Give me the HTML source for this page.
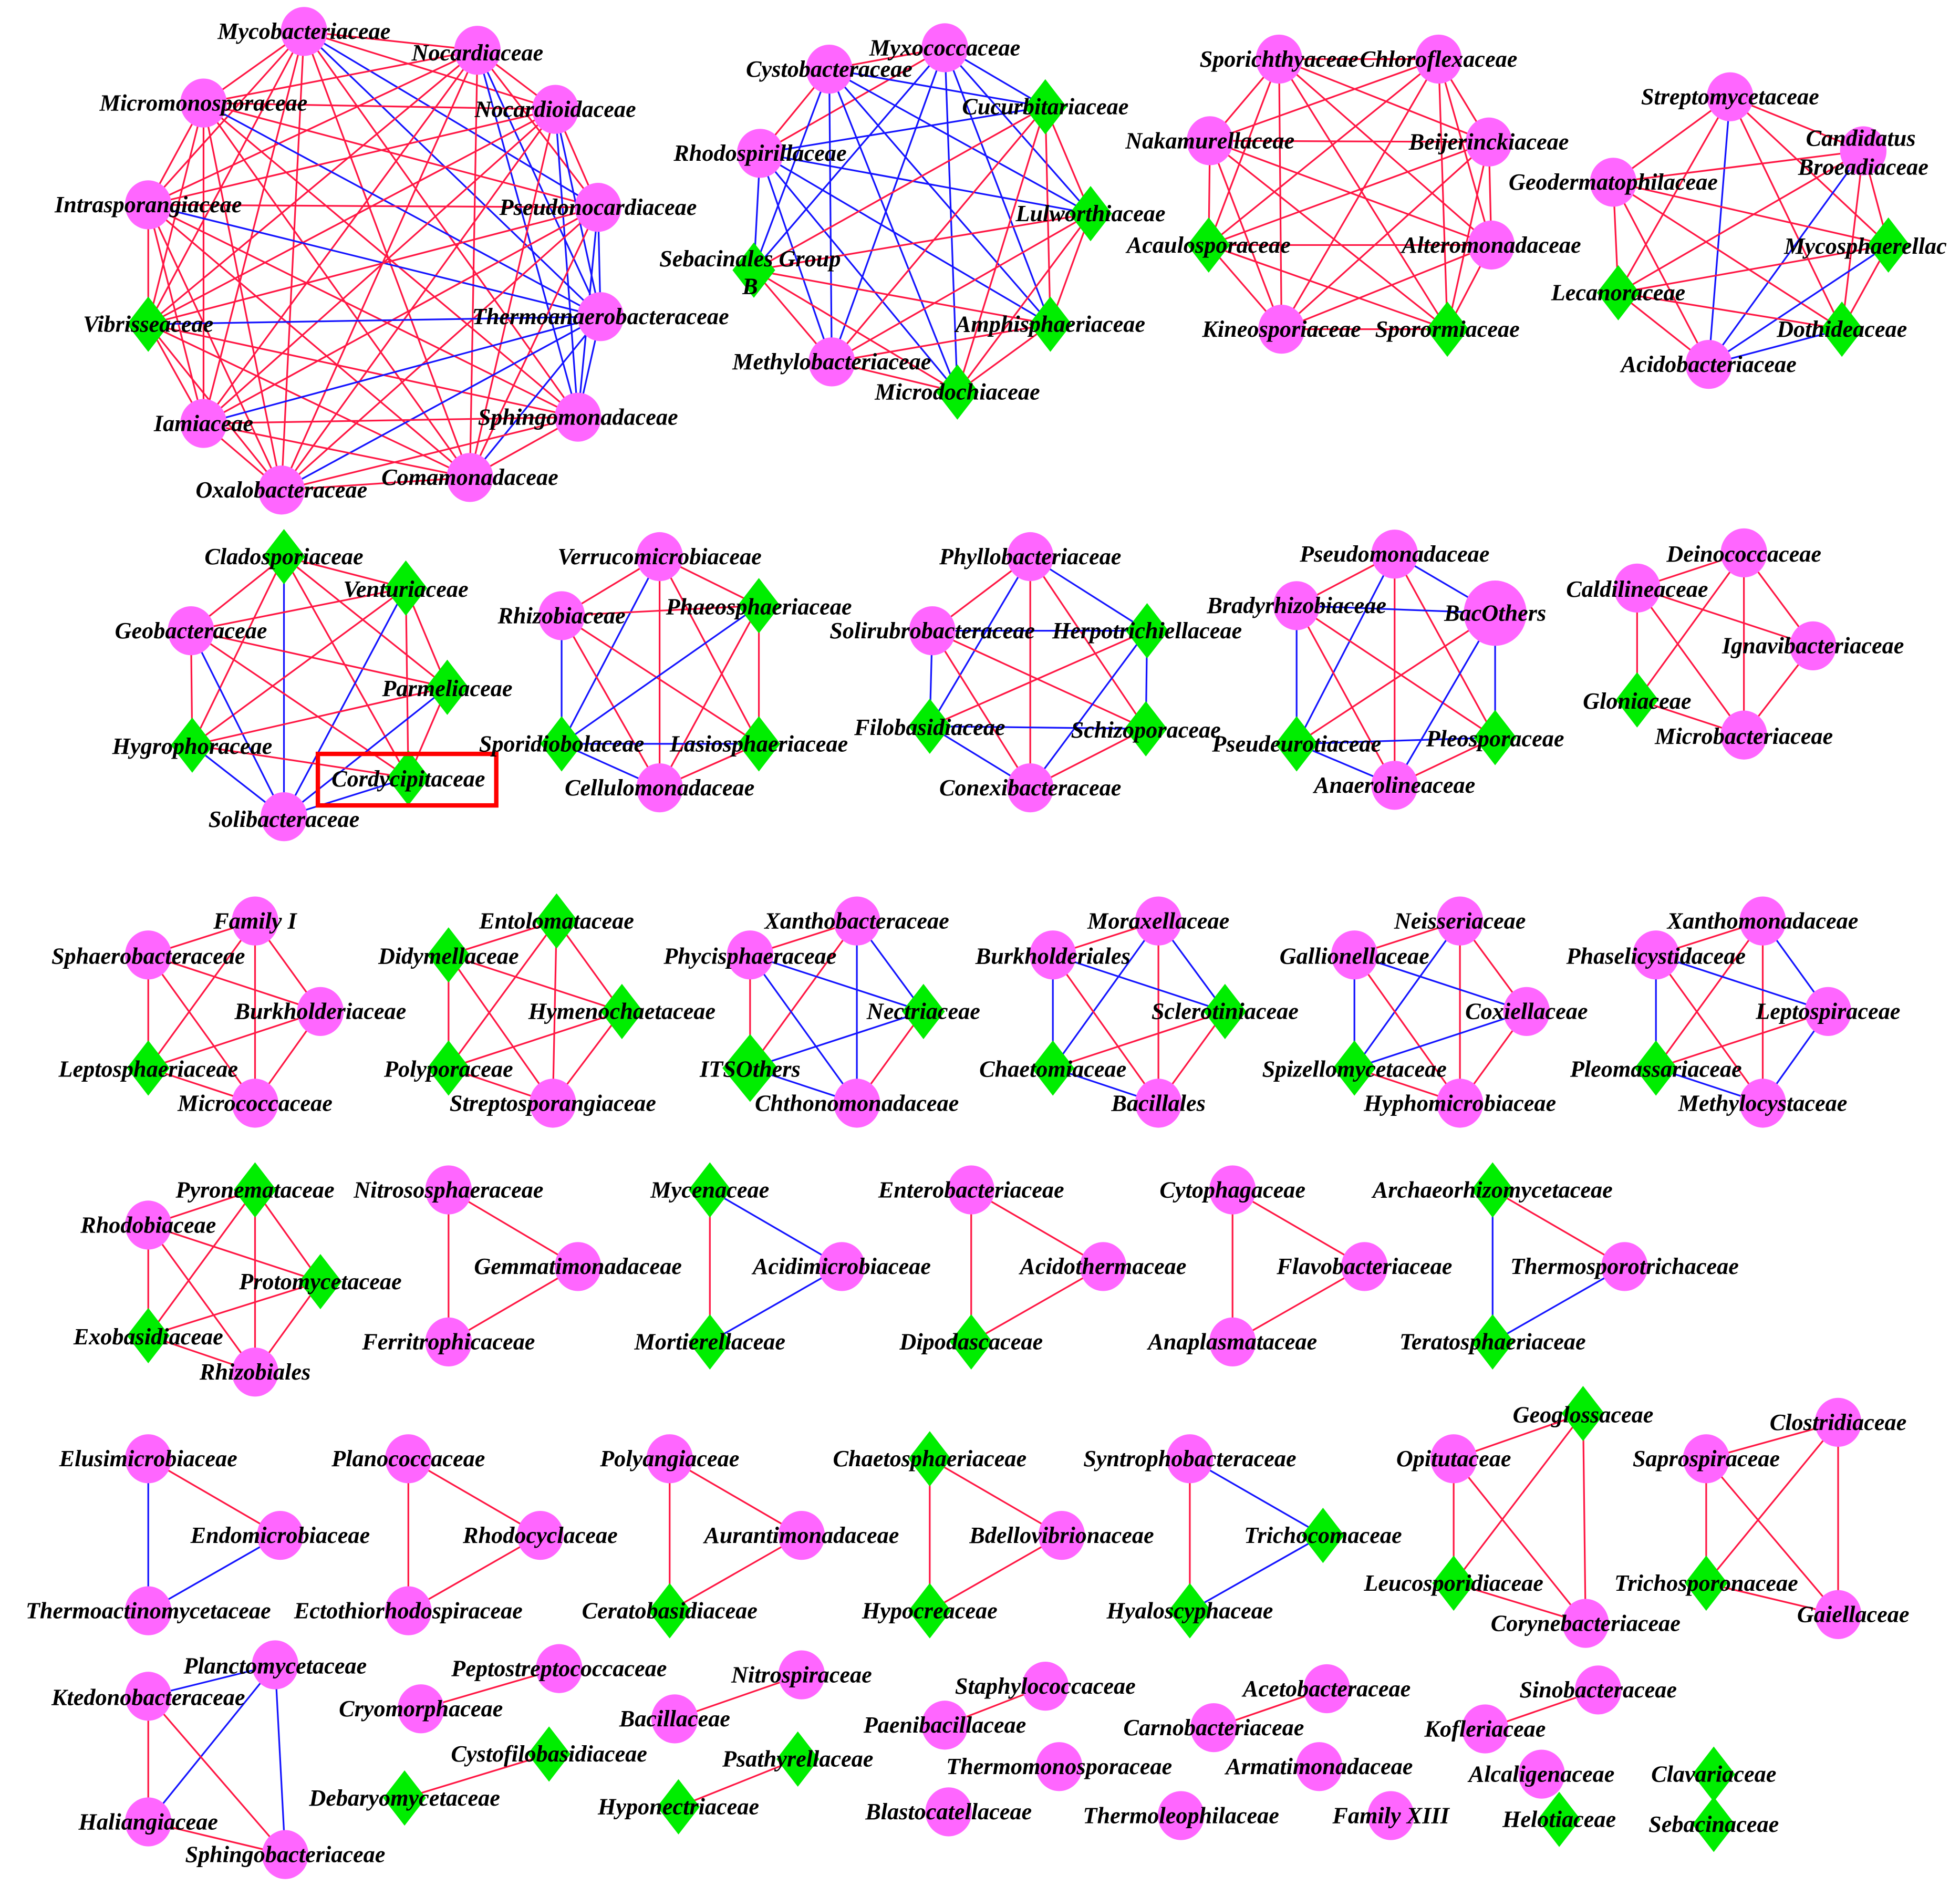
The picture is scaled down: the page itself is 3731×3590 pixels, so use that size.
<!DOCTYPE html>
<html><head><meta charset="utf-8"><style>
html,body{margin:0;padding:0;background:#fff;}
svg{display:block;}
text{font-family:"Liberation Serif",serif;font-weight:bold;font-style:italic;font-size:18.5px;fill:#000;text-anchor:middle;}
</style></head><body>
<svg id="s" width="3731" height="3590" viewBox="0 0 1560 1501" xmlns="http://www.w3.org/2000/svg">
<rect width="1560" height="1501" fill="#fff"/>
<g id="edges"></g>
<g id="nodes"></g>
<rect x="253" y="600" width="142" height="41" fill="none" stroke="#ff0000" stroke-width="3.5"/>
<g id="labels">
<text x="242" y="31">Mycobacteriaceae</text>
<text x="380" y="48">Nocardiaceae</text>
<text x="162" y="88">Micromonosporaceae</text>
<text x="442" y="93">Nocardioidaceae</text>
<text x="118" y="169">Intrasporangiaceae</text>
<text x="476" y="171">Pseudonocardiaceae</text>
<text x="118" y="264">Vibrisseaceae</text>
<text x="478" y="258">Thermoanaerobacteraceae</text>
<text x="162" y="343">Iamiaceae</text>
<text x="460" y="338">Sphingomonadaceae</text>
<text x="224" y="396">Oxalobacteraceae</text>
<text x="374" y="386">Comamonadaceae</text>

<text x="752" y="44">Myxococcaceae</text>
<text x="660" y="61">Cystobacteraceae</text>
<text x="832" y="91">Cucurbitariaceae</text>
<text x="605" y="128">Rhodospirillaceae</text>
<text x="868" y="176">Lulworthiaceae</text>
<text x="597" y="212">Sebacinales Group</text>
<text x="597" y="234">B</text>
<text x="836" y="264">Amphisphaeriaceae</text>
<text x="662" y="294">Methylobacteriaceae</text>
<text x="762" y="318">Microdochiaceae</text>

<text x="1018" y="53">Sporichthyaceae</text>
<text x="1145" y="53">Chloroflexaceae</text>
<text x="963" y="118">Nakamurellaceae</text>
<text x="1185" y="119">Beijerinckiaceae</text>
<text x="962" y="201">Acaulosporaceae</text>
<text x="1187" y="201">Alteromonadaceae</text>
<text x="1020" y="268">Kineosporiaceae</text>
<text x="1152" y="268">Sporormiaceae</text>

<text x="1377" y="83">Streptomycetaceae</text>
<text x="1481" y="116">Candidatus</text>
<text x="1483" y="139">Broeadiaceae</text>
<text x="1284" y="151">Geodermatophilaceae</text>
<text x="1420" y="202" style="text-anchor:start">Mycosphaerellac</text>
<text x="1288" y="239">Lecanoraceae</text>
<text x="1466" y="268">Dothideaceae</text>
<text x="1360" y="296">Acidobacteriaceae</text>

<text x="226" y="449">Cladosporiaceae</text>
<text x="323" y="475">Venturiaceae</text>
<text x="152" y="508">Geobacteraceae</text>
<text x="356" y="554">Parmeliaceae</text>
<text x="153" y="600">Hygrophoraceae</text>
<text x="325" y="626">Cordycipitaceae</text>
<text x="226" y="658">Solibacteraceae</text>

<text x="525" y="449">Verrucomicrobiaceae</text>
<text x="447" y="496">Rhizobiaceae</text>
<text x="604" y="489">Phaeosphaeriaceae</text>
<text x="447" y="598">Sporidiobolaceae</text>
<text x="604" y="598">Lasiosphaeriaceae</text>
<text x="525" y="633">Cellulomonadaceae</text>

<text x="820" y="449">Phyllobacteriaceae</text>
<text x="742" y="508">Solirubrobacteraceae</text>
<text x="913" y="508">Herpotrichiellaceae</text>
<text x="740" y="585">Filobasidiaceae</text>
<text x="912" y="587">Schizoporaceae</text>
<text x="820" y="633">Conexibacteraceae</text>

<text x="1110" y="447">Pseudomonadaceae</text>
<text x="1032" y="488">Bradyrhizobiaceae</text>
<text x="1190" y="494">BacOthers</text>
<text x="1032" y="598">Pseudeurotiaceae</text>
<text x="1190" y="594">Pleosporaceae</text>
<text x="1110" y="631">Anaerolineaceae</text>

<text x="1388" y="447">Deinococcaceae</text>
<text x="1303" y="475">Caldilineaceae</text>
<text x="1443" y="520">Ignavibacteriaceae</text>
<text x="1303" y="564">Gloniaceae</text>
<text x="1388" y="592">Microbacteriaceae</text>

<text x="203" y="739">Family I</text>
<text x="118" y="767">Sphaerobacteraceae</text>
<text x="255" y="811">Burkholderiaceae</text>
<text x="118" y="857">Leptosphaeriaceae</text>
<text x="203" y="884">Micrococcaceae</text>

<text x="443" y="739">Entolomataceae</text>
<text x="357" y="767">Didymellaceae</text>
<text x="495" y="811">Hymenochaetaceae</text>
<text x="357" y="857">Polyporaceae</text>
<text x="440" y="884">Streptosporangiaceae</text>

<text x="682" y="739">Xanthobacteraceae</text>
<text x="597" y="767">Phycisphaeraceae</text>
<text x="735" y="811">Nectriaceae</text>
<text x="597" y="857">ITSOthers</text>
<text x="682" y="884">Chthonomonadaceae</text>

<text x="922" y="739">Moraxellaceae</text>
<text x="838" y="767">Burkholderiales</text>
<text x="975" y="811">Sclerotiniaceae</text>
<text x="838" y="857">Chaetomiaceae</text>
<text x="922" y="884">Bacillales</text>

<text x="1162" y="739">Neisseriaceae</text>
<text x="1078" y="767">Gallionellaceae</text>
<text x="1215" y="811">Coxiellaceae</text>
<text x="1078" y="857">Spizellomycetaceae</text>
<text x="1162" y="884">Hyphomicrobiaceae</text>

<text x="1403" y="739">Xanthomonadaceae</text>
<text x="1318" y="767">Phaselicystidaceae</text>
<text x="1455" y="811">Leptospiraceae</text>
<text x="1318" y="857">Pleomassariaceae</text>
<text x="1403" y="884">Methylocystaceae</text>

<text x="203" y="953">Pyronemataceae</text>
<text x="118" y="981">Rhodobiaceae</text>
<text x="255" y="1026">Protomycetaceae</text>
<text x="118" y="1070">Exobasidiaceae</text>
<text x="203" y="1098">Rhizobiales</text>

<text x="357" y="953">Nitrososphaeraceae</text>
<text x="460" y="1014">Gemmatimonadaceae</text>
<text x="357" y="1074">Ferritrophicaceae</text>
<text x="565" y="953">Mycenaceae</text>
<text x="670" y="1014">Acidimicrobiaceae</text>
<text x="565" y="1074">Mortierellaceae</text>
<text x="773" y="953">Enterobacteriaceae</text>
<text x="878" y="1014">Acidothermaceae</text>
<text x="773" y="1074">Dipodascaceae</text>
<text x="981" y="953">Cytophagaceae</text>
<text x="1086" y="1014">Flavobacteriaceae</text>
<text x="981" y="1074">Anaplasmataceae</text>
<text x="1188" y="953">Archaeorhizomycetaceae</text>
<text x="1293" y="1014">Thermosporotrichaceae</text>
<text x="1188" y="1074">Teratosphaeriaceae</text>

<text x="118" y="1167">Elusimicrobiaceae</text>
<text x="223" y="1228">Endomicrobiaceae</text>
<text x="118" y="1288">Thermoactinomycetaceae</text>
<text x="325" y="1167">Planococcaceae</text>
<text x="430" y="1228">Rhodocyclaceae</text>
<text x="325" y="1288">Ectothiorhodospiraceae</text>
<text x="533" y="1167">Polyangiaceae</text>
<text x="638" y="1228">Aurantimonadaceae</text>
<text x="533" y="1288">Ceratobasidiaceae</text>
<text x="740" y="1167">Chaetosphaeriaceae</text>
<text x="845" y="1228">Bdellovibrionaceae</text>
<text x="740" y="1288">Hypocreaceae</text>
<text x="947" y="1167">Syntrophobacteraceae</text>
<text x="1053" y="1228">Trichocomaceae</text>
<text x="947" y="1288">Hyaloscyphaceae</text>
<text x="1260" y="1132">Geoglossaceae</text>
<text x="1157" y="1167">Opitutaceae</text>
<text x="1157" y="1266">Leucosporidiaceae</text>
<text x="1262" y="1298">Corynebacteriaceae</text>
<text x="1463" y="1138">Clostridiaceae</text>
<text x="1358" y="1167">Saprospiraceae</text>
<text x="1358" y="1266">Trichosporonaceae</text>
<text x="1475" y="1291">Gaiellaceae</text>

<text x="219" y="1332">Planctomycetaceae</text>
<text x="118" y="1357">Ktedonobacteraceae</text>
<text x="118" y="1456">Haliangiaceae</text>
<text x="227" y="1482">Sphingobacteriaceae</text>
<text x="445" y="1334">Peptostreptococcaceae</text>
<text x="335" y="1366">Cryomorphaceae</text>
<text x="437" y="1402">Cystofilobasidiaceae</text>
<text x="322" y="1437">Debaryomycetaceae</text>
<text x="638" y="1339">Nitrospiraceae</text>
<text x="537" y="1374">Bacillaceae</text>
<text x="635" y="1406">Psathyrellaceae</text>
<text x="540" y="1444">Hyponectriaceae</text>
<text x="832" y="1348">Staphylococcaceae</text>
<text x="752" y="1379">Paenibacillaceae</text>
<text x="843" y="1412">Thermomonosporaceae</text>
<text x="755" y="1448">Blastocatellaceae</text>
<text x="1056" y="1350">Acetobacteraceae</text>
<text x="966" y="1381">Carnobacteriaceae</text>
<text x="1050" y="1412">Armatimonadaceae</text>
<text x="940" y="1451">Thermoleophilaceae</text>
<text x="1107" y="1451">Family XIII</text>
<text x="1272" y="1351">Sinobacteraceae</text>
<text x="1182" y="1382">Kofleriaceae</text>
<text x="1227" y="1418">Alcaligenaceae</text>
<text x="1241" y="1454">Helotiaceae</text>
<text x="1364" y="1418">Clavariaceae</text>
<text x="1364" y="1458">Sebacinaceae</text>
</g>
</svg>
<script>
var NS="http://www.w3.org/2000/svg";
var E=document.getElementById("edges"),ND=document.getElementById("nodes");
var R="#ff1744",B="#1414ff";
function line(a,b,c){var l=document.createElementNS(NS,"line");l.setAttribute("x1",a[0]);l.setAttribute("y1",a[1]);l.setAttribute("x2",b[0]);l.setAttribute("y2",b[1]);l.setAttribute("stroke",c);l.setAttribute("stroke-width","1.35");E.appendChild(l);}
function node(n){var x=n[0],y=n[1],t=n[2],s;
 if(t=="c"||t=="C"){var r=t=="C"?25:18.5;s=document.createElementNS(NS,"ellipse");s.setAttribute("cx",x);s.setAttribute("cy",y);s.setAttribute("rx",r);s.setAttribute("ry",r+1);s.setAttribute("fill","#ff66ff");}
 else{var w=t=="D"?22:17,h=t=="D"?27:22;s=document.createElementNS(NS,"polygon");s.setAttribute("points",x+","+(y-h)+" "+(x+w)+","+y+" "+x+","+(y+h)+" "+(x-w)+","+y);s.setAttribute("fill","#00ee00");}
 ND.appendChild(s);}
function has(set,i,j){return set.indexOf(i+"-"+j)>=0||set.indexOf(j+"-"+i)>=0;}
// K: complete graph; set = pairs in "alt" color
function K(ns,set,def,alt){for(var i=0;i<ns.length;i++)for(var j=i+1;j<ns.length;j++)line(ns[i],ns[j],has(set,i,j)?alt:def);ns.forEach(node);}
// P: explicit edges [i,j,color]
function P(ns,es){es.forEach(function(e){line(ns[e[0]],ns[e[1]],e[2]);});ns.forEach(node);}

K([[242,25,"c"],[380,40,"c"],[162,82,"c"],[442,87,"c"],[118,163,"c"],[476,165,"c"],[118,258,"d"],[478,252,"c"],[162,337,"c"],[460,332,"c"],[224,390,"c"],[374,380,"c"]],
 ["0-7","1-7","2-7","4-7","6-7","8-7","10-7","11-7","3-7","5-7","9-7","3-9","5-9","1-9","0-5"],R,B);
K([[752,38,"c"],[660,55,"c"],[605,122,"c"],[832,85,"d"],[868,170,"d"],[600,215,"d"],[836,258,"d"],[662,288,"c"],[762,312,"d"]],
 ["0-1","0-2","1-2","3-4","3-5","3-6","3-7","3-8","4-5","4-6","4-7","4-8","5-6","5-7","5-8","6-7","6-8","7-8"],B,R);
K([[1018,47,"c"],[1145,47,"c"],[963,112,"c"],[1185,113,"c"],[962,195,"d"],[1187,195,"c"],[1020,262,"c"],[1152,262,"d"]],[],R,B);
K([[1377,77,"c"],[1483,120,"c"],[1284,145,"c"],[1503,195,"d"],[1288,233,"d"],[1466,262,"d"],[1360,290,"c"]],["0-6","1-6","3-6","5-6"],R,B);
K([[226,443,"d"],[323,468,"d"],[152,502,"c"],[356,547,"d"],[153,593,"d"],[325,619,"d"],[226,650,"c"]],["0-6","1-6","2-6","3-6","4-6","5-6"],R,B);
K([[525,443,"c"],[447,490,"c"],[604,482,"d"],[447,592,"d"],[604,592,"d"],[525,627,"c"]],["1-3","0-3","2-3","3-4","3-5"],R,B);
K([[820,443,"c"],[742,502,"c"],[913,502,"d"],[740,578,"d"],[912,580,"d"],[820,627,"c"]],["0-2","0-3","1-2","1-3","2-4","3-4","3-5","2-5"],R,B);
K([[1110,441,"c"],[1032,482,"c"],[1190,488,"C"],[1032,592,"d"],[1190,587,"d"],[1110,625,"c"]],["0-2","0-3","1-2","1-3","2-4","2-5","3-4","3-5"],R,B);
P([[1388,440,"c"],[1303,468,"c"],[1443,514,"c"],[1303,557,"d"],[1388,585,"c"]],[[0,1,R],[0,2,R],[0,3,R],[0,4,R],[1,3,R],[1,2,R],[2,4,R],[3,4,R],[1,4,R]]);
K([[203,733,"c"],[118,760,"c"],[255,805,"c"],[118,850,"d"],[203,878,"c"]],[],R,B);
K([[443,733,"d"],[357,760,"d"],[495,805,"d"],[357,850,"d"],[440,878,"c"]],[],R,B);
K([[682,733,"c"],[597,760,"c"],[735,805,"d"],[597,850,"D"],[682,878,"c"]],["0-2","0-4","1-2","1-4","3-2","3-4"],R,B);
K([[922,733,"c"],[838,760,"c"],[975,805,"d"],[838,850,"d"],[922,878,"c"]],["1-3","1-2","0-3","0-2","3-4"],R,B);
K([[1162,733,"c"],[1078,760,"c"],[1215,805,"c"],[1078,850,"d"],[1162,878,"c"]],["1-3","1-2","0-3","2-3"],R,B);
K([[1403,733,"c"],[1318,760,"c"],[1455,805,"c"],[1318,850,"d"],[1403,878,"c"]],["1-3","0-2","2-4","1-2","3-4"],R,B);
K([[203,947,"d"],[118,975,"c"],[255,1020,"d"],[118,1063,"d"],[203,1092,"c"]],[],R,B);
P([[357,947,"c"],[460,1008,"c"],[357,1068,"c"]],[[0,1,R],[0,2,R],[1,2,R]]);
P([[565,947,"d"],[670,1008,"c"],[565,1068,"d"]],[[0,1,B],[0,2,R],[1,2,B]]);
P([[773,947,"c"],[878,1008,"c"],[773,1068,"d"]],[[0,1,R],[0,2,R],[1,2,R]]);
P([[981,947,"c"],[1086,1008,"c"],[981,1068,"c"]],[[0,1,R],[0,2,R],[1,2,R]]);
P([[1188,947,"d"],[1293,1008,"c"],[1188,1068,"d"]],[[0,1,R],[0,2,B],[1,2,B]]);
P([[118,1161,"c"],[223,1222,"c"],[118,1282,"c"]],[[0,1,R],[0,2,B],[1,2,B]]);
P([[325,1161,"c"],[430,1222,"c"],[325,1282,"c"]],[[0,1,R],[0,2,R],[1,2,R]]);
P([[533,1161,"c"],[638,1222,"c"],[533,1282,"d"]],[[0,1,R],[0,2,R],[1,2,R]]);
P([[740,1161,"d"],[845,1222,"c"],[740,1282,"d"]],[[0,1,R],[0,2,R],[1,2,R]]);
P([[947,1161,"c"],[1053,1222,"d"],[947,1282,"d"]],[[0,1,B],[0,2,R],[1,2,B]]);
K([[1260,1125,"d"],[1157,1161,"c"],[1157,1260,"d"],[1262,1292,"c"]],[],R,B);
K([[1463,1132,"c"],[1358,1161,"c"],[1358,1260,"d"],[1463,1285,"c"]],[],R,B);
P([[219,1325,"c"],[118,1350,"c"],[118,1450,"c"],[227,1476,"c"]],[[0,1,B],[0,2,B],[0,3,B],[1,2,R],[1,3,R],[2,3,R]]);
P([[445,1328,"c"],[335,1360,"c"]],[[0,1,R]]);
P([[437,1396,"d"],[322,1431,"d"]],[[0,1,R]]);
P([[638,1333,"c"],[537,1368,"c"]],[[0,1,R]]);
P([[635,1400,"d"],[540,1438,"d"]],[[0,1,R]]);
P([[832,1342,"c"],[752,1373,"c"],[843,1406,"c"],[755,1442,"c"]],[[0,1,R]]);
P([[1056,1344,"c"],[966,1375,"c"],[1050,1406,"c"],[940,1445,"c"],[1107,1445,"c"]],[[0,1,R]]);
P([[1272,1345,"c"],[1182,1376,"c"],[1227,1412,"c"],[1241,1448,"d"]],[[0,1,R]]);
P([[1364,1412,"d"],[1364,1452,"d"]],[]);
</script>
</body></html>
